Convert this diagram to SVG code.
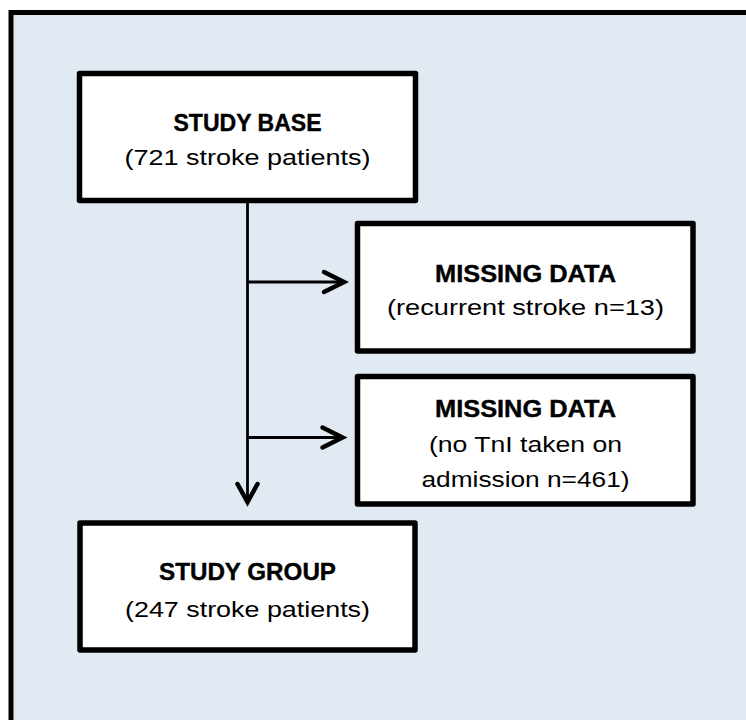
<svg xmlns="http://www.w3.org/2000/svg" width="746" height="720" viewBox="0 0 746 720">
  <defs>
    <style>
      .frame { fill: #e1e9f3; stroke: #000; stroke-width: 5; }
      .box { fill: #fff; stroke: #000; stroke-width: 5.5; stroke-linejoin: round; }
      .line { fill: none; stroke: #000; stroke-width: 2.8; }
      .head { fill: none; stroke: #000; stroke-width: 4.5; stroke-linecap: round; stroke-linejoin: miter; }
      .t { font-family: "Liberation Sans", Arial, sans-serif; font-size: 22px; fill: #000; text-anchor: middle; }
      .b { font-weight: bold; font-size: 24px; stroke: #000; stroke-width: 0.4; }
    </style>
  </defs>
  <rect x="0" y="0" width="746" height="720" fill="#fff"/>
  <rect class="frame" x="11" y="12.5" width="800" height="800"/>

  <g id="connectors">
    <line class="line" x1="247.5" y1="200" x2="247.5" y2="502"/>
    <path class="head" d="M237.5,484 L247.5,502 L257.5,484"/>
    <line class="line" x1="247.5" y1="282" x2="343" y2="282"/>
    <path class="head" d="M324,272 L344,282 L324,292"/>
    <line class="line" x1="247.5" y1="437.5" x2="341" y2="437.5"/>
    <path class="head" d="M322.5,427.5 L342.5,437.5 L322.5,447.5"/>
  </g>

  <g id="study-base">
    <rect class="box" x="79.5" y="73.5" width="336" height="127"/>
    <text class="t b" x="247.5" y="131" textLength="148" lengthAdjust="spacingAndGlyphs">STUDY BASE</text>
    <text class="t" x="247.5" y="165" textLength="246" lengthAdjust="spacingAndGlyphs">(721 stroke patients)</text>
  </g>

  <g id="missing-recurrent">
    <rect class="box" x="357.5" y="223.5" width="335.5" height="127.5"/>
    <text class="t b" x="525.5" y="282" textLength="181" lengthAdjust="spacingAndGlyphs">MISSING DATA</text>
    <text class="t" x="525.5" y="315" textLength="277" lengthAdjust="spacingAndGlyphs">(recurrent stroke n=13)</text>
  </g>

  <g id="missing-tni">
    <rect class="box" x="357.5" y="376.5" width="335.5" height="127.5"/>
    <text class="t b" x="525.5" y="417" textLength="181" lengthAdjust="spacingAndGlyphs">MISSING DATA</text>
    <text class="t" x="525.5" y="452" textLength="193" lengthAdjust="spacingAndGlyphs">(no TnI taken on</text>
    <text class="t" x="525.5" y="487" textLength="208" lengthAdjust="spacingAndGlyphs">admission n=461)</text>
  </g>

  <g id="study-group">
    <rect class="box" x="80" y="523" width="335" height="127"/>
    <text class="t b" x="247.5" y="580" textLength="177" lengthAdjust="spacingAndGlyphs">STUDY GROUP</text>
    <text class="t" x="247.5" y="617" textLength="245" lengthAdjust="spacingAndGlyphs">(247 stroke patients)</text>
  </g>
</svg>
